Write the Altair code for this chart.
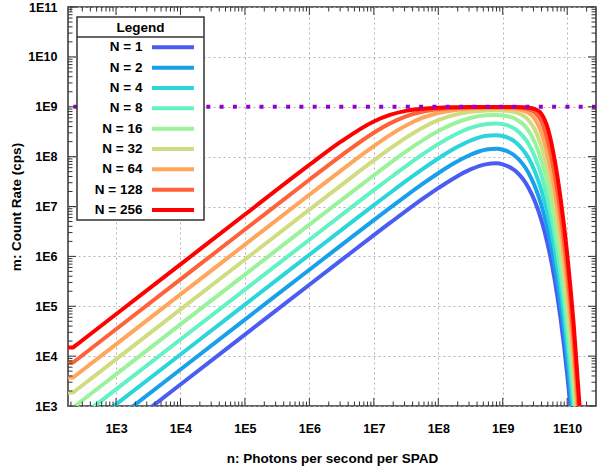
import altair as alt
import pandas as pd

# ---------------- data ----------------
series_labels = ["N = 1", "N = 2", "N = 4", "N = 8", "N = 16",
                 "N = 32", "N = 64", "N = 128", "N = 256"]

# log10(n): photons per second per SPAD, where the curves were read
log_n = [2.255, 2.336, 2.36, 2.5, 3, 4, 5, 6, 6.5, 7, 7.25, 7.5, 7.75, 8, 8.25, 8.5,
         8.75, 8.9, 9.0, 9.2, 9.4, 9.5, 9.6, 9.7, 9.8, 9.9, 10.0, 10.1, 10.2]

# log10(m): count rate (cps) of each series at those n
m_N1 = [1.767, 1.767, 1.791, 1.931, 2.431, 3.431, 4.431, 5.431, 5.929, 6.425, 6.670, 6.912, 7.147, 7.368, 7.573,
        7.744, 7.850, 7.865, 7.846, 7.710, 7.376, 7.100, 6.726, 6.229, 5.578, 4.732, 3.640, 2.241, 0.454]
m_N2 = [2.068, 2.068, 2.092, 2.232, 2.732, 3.732, 4.732, 5.732, 6.230, 6.726, 6.971, 7.212, 7.447, 7.667, 7.870,
        8.038, 8.142, 8.156, 8.138, 8.005, 7.675, 7.400, 7.027, 6.530, 5.879, 5.033, 3.941, 2.542, 0.755]
m_N4 = [2.369, 2.369, 2.393, 2.533, 3.033, 4.033, 5.033, 6.033, 6.531, 7.027, 7.271, 7.512, 7.745, 7.963, 8.161,
        8.321, 8.417, 8.430, 8.413, 8.289, 7.971, 7.699, 7.327, 6.831, 6.180, 5.334, 4.242, 2.843, 1.056]
m_N8 = [2.670, 2.670, 2.694, 2.834, 3.334, 4.334, 5.334, 6.334, 6.832, 7.327, 7.571, 7.810, 8.039, 8.250, 8.434,
        8.575, 8.654, 8.665, 8.651, 8.548, 8.257, 7.994, 7.626, 7.132, 6.481, 5.635, 4.543, 3.144, 1.357]
m_N16 = [2.971, 2.971, 2.995, 3.135, 3.635, 4.635, 5.635, 6.635, 7.133, 7.626, 7.868, 8.103, 8.322, 8.513, 8.668,
         8.774, 8.828, 8.834, 8.826, 8.755, 8.520, 8.279, 7.923, 7.432, 6.782, 5.936, 4.844, 3.445, 1.658]
m_N32 = [3.272, 3.272, 3.296, 3.436, 3.936, 4.936, 5.936, 6.936, 7.433, 7.923, 8.159, 8.381, 8.576, 8.730, 8.837,
         8.899, 8.927, 8.930, 8.926, 8.888, 8.734, 8.539, 8.211, 7.730, 7.083, 6.237, 5.145, 3.746, 1.959]
m_N64 = [3.573, 3.573, 3.597, 3.737, 4.237, 5.237, 6.237, 7.236, 7.731, 8.211, 8.432, 8.625, 8.775, 8.874, 8.931,
         8.960, 8.972, 8.973, 8.971, 8.955, 8.877, 8.749, 8.480, 8.025, 7.383, 6.538, 5.446, 4.047, 2.260]
m_N128 = [3.874, 3.874, 3.898, 4.038, 4.538, 5.538, 6.538, 7.536, 8.026, 8.480, 8.667, 8.809, 8.899, 8.949, 8.974,
          8.985, 8.990, 8.990, 8.990, 8.984, 8.950, 8.885, 8.704, 8.308, 7.682, 6.839, 5.747, 4.348, 2.561]
m_N256 = [4.175, 4.175, 4.199, 4.339, 4.839, 5.839, 6.839, 7.834, 8.309, 8.704, 8.836, 8.917, 8.960, 8.981, 8.990,
          8.995, 8.997, 8.997, 8.997, 8.994, 8.981, 8.954, 8.859, 8.564, 7.977, 7.140, 6.048, 4.649, 2.862]

series_values = [m_N1, m_N2, m_N4, m_N8, m_N16, m_N32, m_N64, m_N128, m_N256]

saturation_level = [1e9]

x_tick_labels = [1e3, 1e4, 1e5, 1e6, 1e7, 1e8, 1e9, 1e10]
y_tick_labels = [1e3, 1e4, 1e5, 1e6, 1e7, 1e8, 1e9, 1e10, 1e11]

# ---------------- styles ----------------
palette = ["#4b5cf2", "#19a0ea", "#2bd5db", "#63f2c3", "#9af29b",
           "#cfdd80", "#ffa65b", "#ff6139", "#ff0000"]
FONT = "Liberation Sans"
W, H = 528, 399

rows = []
for lab, vals in zip(series_labels, series_values):
    for i, (lx, ly) in enumerate(zip(log_n, vals)):
        rows.append({"series": lab, "idx": i, "n": 10 ** lx, "m": 10 ** ly})
df = pd.DataFrame(rows)

x_scale = alt.Scale(type="log", domain=[180, 2.8e10], nice=False)
y_scale = alt.Scale(type="log", domain=[1e3, 1e11], nice=False)
color_scale = alt.Scale(domain=series_labels, range=palette)

label_expr = "'1E' + round(log(datum.value) / LN10)"
x_axis = alt.Axis(values=x_tick_labels, labelExpr=label_expr, grid=True,
                  gridDash=[2, 3], gridColor="#b5b5b5", gridWidth=1,
                  ticks=False, domain=False, labelFont=FONT, labelFontWeight="bold",
                  labelFontSize=12.5, labelColor="#000", labelPadding=16, labelFlush=False,
                  labelOverlap=False,
                  title="n: Photons per second per SPAD", titleFont=FONT,
                  titleFontSize=13.5, titleFontWeight="bold", titleColor="#000",
                  titleX=W / 2, titleY=52, titleBaseline="middle", titleAlign="center")
y_axis = alt.Axis(values=y_tick_labels, labelExpr=label_expr, grid=True,
                  gridDash=[2, 3], gridColor="#b5b5b5", gridWidth=1,
                  ticks=False, domain=False, labelFont=FONT, labelFontWeight="bold",
                  labelFontSize=12.5, labelColor="#000", labelPadding=11, labelFlush=False,
                  labelOverlap=False,
                  title="m: Count Rate (cps)", titleFont=FONT,
                  titleFontSize=13.5, titleFontWeight="bold", titleColor="#000",
                  titleX=-52, titleY=H / 2, titleBaseline="middle", titleAlign="center")

lines = alt.Chart(df).mark_line(
    strokeWidth=4, interpolate="monotone", clip=True, strokeJoin="round"
).encode(
    x=alt.X("n:Q", scale=x_scale, axis=x_axis),
    y=alt.Y("m:Q", scale=y_scale, axis=y_axis),
    color=alt.Color("series:N", scale=color_scale, legend=None),
    order="idx:Q",
)

hline = alt.Chart(pd.DataFrame({"m": saturation_level})).mark_rule(
    color="#9400d3", strokeWidth=4, strokeDash=[4, 9.3]
).encode(y=alt.Y("m:Q", scale=y_scale, axis=y_axis))

# tick marks drawn inside the frame on all four sides
y_minor = [j * 10 ** k for k in range(3, 11) for j in range(2, 10)]
x_minor = [v for v in (j * 10 ** k for k in range(2, 11) for j in range(2, 10))
           if 180 <= v <= 2.8e10]

def yticks(values, length):
    d = pd.DataFrame({"m": values})
    base = alt.Chart(d).mark_rule(color="#333", strokeWidth=1)
    yy = alt.Y("m:Q", scale=y_scale, axis=y_axis)
    return [base.encode(y=yy, x=alt.value(0), x2=alt.value(length)),
            base.encode(y=yy, x=alt.value(W), x2=alt.value(W - length))]

def xticks(values, length):
    d = pd.DataFrame({"n": values})
    base = alt.Chart(d).mark_rule(color="#333", strokeWidth=1)
    xx = alt.X("n:Q", scale=x_scale, axis=x_axis)
    return [base.encode(x=xx, y=alt.value(0), y2=alt.value(length)),
            base.encode(x=xx, y=alt.value(H), y2=alt.value(H - length))]

tick_layers = (yticks(y_tick_labels, 8) + yticks(y_minor, 4.5)
               + xticks(x_tick_labels, 8) + xticks(x_minor, 4.5))

# ---------------- legend box (layout only) ----------------
one = pd.DataFrame({"a": [0]})
legend_layers = [
    alt.Chart(one).mark_rect(fill="white", stroke="#333", strokeWidth=1.5).encode(
        x=alt.value(9), x2=alt.value(136), y=alt.value(10), y2=alt.value(213)),
    alt.Chart(one).mark_rule(color="#333", strokeWidth=1.5).encode(
        x=alt.value(9), x2=alt.value(136), y=alt.value(30)),
    alt.Chart(one).mark_text(text="Legend", font=FONT, fontWeight="bold", fontSize=13.5,
                             align="center", baseline="middle", color="#000").encode(
        x=alt.value(72.5), y=alt.value(20.5)),
]
ROW0, ROWSTEP = 40.3, 20.34
for i, (lab, col) in enumerate(zip(series_labels, palette)):
    yy = ROW0 + i * ROWSTEP
    legend_layers.append(
        alt.Chart(one).mark_rule(strokeWidth=4, color=col).encode(
            x=alt.value(84), x2=alt.value(126), y=alt.value(yy)))
    legend_layers.append(
        alt.Chart(one).mark_text(text=lab, font=FONT, fontWeight="bold", fontSize=13.5,
                                 align="right", baseline="middle", color="#000").encode(
            x=alt.value(74.5), y=alt.value(yy)))

chart = alt.layer(lines, hline, *tick_layers, *legend_layers).properties(
    width=W, height=H,
    autosize="none",
    padding={"left": 68, "top": 7, "right": 1, "bottom": 66},
    background="white",
).configure_view(stroke="#333", strokeWidth=1.5)

chart.save("out.html", embed_options={"renderer": "svg", "actions": False})
